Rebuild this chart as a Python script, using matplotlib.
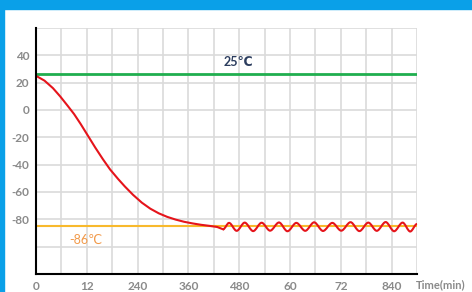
import matplotlib.pyplot as plt
from matplotlib.patches import Rectangle, PathPatch
from matplotlib.path import Path

# cooling curve (min, deg C)
cool_t = [0, 20, 40, 57, 75, 90, 105, 123, 140, 158, 175, 194, 210, 229,
          250, 270, 290, 310, 330, 350, 370, 390, 410, 428, 442]
cool_v = [25, 21.5, 16, 10, 3, -3, -10, -19, -27.5, -36, -43.5, -50.5, -56, -62,
          -67.8, -72.2, -75.6, -78.2, -80.2, -81.8, -83, -84, -84.8, -85.6, -87.3]

# oscillation extremes after reaching setpoint
wave_t = [442, 456, 474, 493, 513, 533, 553, 574, 594, 615, 636, 657, 678,
          700, 721, 743, 764, 785, 805, 826, 846, 866, 884, 900]
wave_v = [-87.3, -82.6, -88.4, -82.4, -88.6, -82.5, -88.3, -82.3, -88.7, -82.6,
          -88.4, -82.2, -88.5, -82.6, -88.3, -82.1, -88.6, -82.4, -88.4, -82.0,
          -88.7, -82.4, -88.9, -83.4]

room_temp = 26
room_label = "25℃"
set_temp = -85
set_label = "-86℃"

x_ticks = list(range(0, 901, 60))
x_labels = ["0", "", "12", "", "240", "", "360", "", "480", "", "60", "", "72", "", "840", ""]
y_ticks = list(range(-120, 61, 20))
y_labels = ["", "", "-80", "-60", "-40", "-20", "0", "20", "40", ""]

plt.rcParams['font.family'] = ['Lato', 'DejaVu Sans']

fig = plt.figure(figsize=(4.72, 2.92), dpi=100)
fig.patches.append(Rectangle((0, 1 - 9 / 292), 1, 9 / 292, transform=fig.transFigure,
                             color='#0aa0e8', zorder=0))
fig.patches.append(Rectangle((0, 0), 4 / 472, 1, transform=fig.transFigure,
                             color='#0aa0e8', zorder=0))

ax = fig.add_axes([36 / 472, 18 / 292, 381 / 472, 246 / 292])
ax.set_xlim(0, 900)
ax.set_ylim(-120, 60)
ax.set_xticks(x_ticks)
ax.set_xticklabels(x_labels)
ax.set_yticks(y_ticks)
ax.set_yticklabels(y_labels)
ax.tick_params(length=0, labelsize=8.5, labelcolor='#8a8a8a', pad=5)
for lab in ax.get_xticklabels() + ax.get_yticklabels():
    lab.set_fontweight('bold')
ax.grid(True, color='#dadada', linewidth=1.2)
ax.set_axisbelow(True)
for s in ['top', 'right']:
    ax.spines[s].set_visible(False)
for s in ['left', 'bottom']:
    ax.spines[s].set_linewidth(1.5)
    ax.spines[s].set_color('black')
    ax.spines[s].set_zorder(5)

ax.axhline(room_temp, color='#1fae4e', linewidth=2, zorder=3)
ax.axhline(set_temp, color='#f8b92c', linewidth=1.5, zorder=3)

ax.plot(cool_t, cool_v, color='#e5141b', linewidth=1.5, zorder=4)

# smooth wave through the extremes
verts = [(wave_t[0], wave_v[0])]
codes = [Path.MOVETO]
for i in range(1, len(wave_t)):
    dt = wave_t[i] - wave_t[i - 1]
    verts += [(wave_t[i - 1] + dt / 3, wave_v[i - 1]),
              (wave_t[i] - dt / 3, wave_v[i]),
              (wave_t[i], wave_v[i])]
    codes += [Path.CURVE4] * 3
ax.add_patch(PathPatch(Path(verts, codes), facecolor='none', edgecolor='#e5141b',
                       linewidth=1.5, zorder=4, clip_on=False))

ax.text(477, 35, room_label, color='#2c3d5e', fontsize=9, fontweight='bold',
        ha='center', va='center')
ax.text(118, -95, set_label, color='#f29a4a', fontsize=9,
        ha='center', va='center')
fig.text(441 / 472, 7 / 292, "Time(min)", color='#8a8a8a', fontsize=8,
         fontweight='bold', ha='center', va='center')

fig.savefig('out.png', dpi=100)
